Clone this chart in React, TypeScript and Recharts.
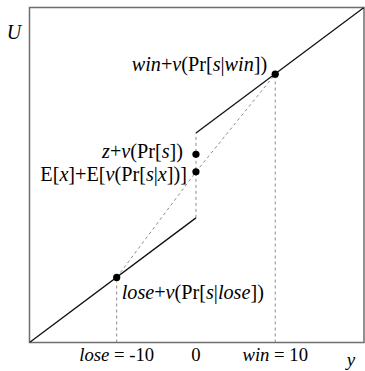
import React from "react";
import {
  ComposedChart,
  Line,
  Scatter,
  XAxis,
  YAxis,
  ReferenceArea,
} from "recharts";

const FONT = "'Liberation Serif', 'DejaVu Serif', 'Times New Roman', Times, serif";

// axis ranges (income y and utility U)
const Y_DOMAIN = [-21, 21.2];
const U_DOMAIN = [-21, 21.2];

// x-axis ticks and their labels (italic word, upright rest)
const yTicks = [-10, 0, 10];
const tickWords = ["lose", "", "win"];
const tickRest = [" = -10", "0", " = 10"];

// solid branches of the utility function, below and above y = 0
const lowerY = [-21, 0];
const lowerU = [-21, -5.3];
const upperY = [0, 21.2];
const upperU = [5.4, 21.2];

// dashed guides
const loseDropY = [-10, -10];
const loseDropU = [-21, -12.8];
const winDropY = [10, 10];
const winDropU = [-21, 12.8];
const jumpY = [0, 0];
const jumpU = [-5.3, 5.4];
const chordY = [-10, 0, 10];
const chordU = [-12.8, 0.5, 12.8];

// marked points
const dotY = [10, 0, 0, -10];
const dotU = [12.8, 2.7, 0.5, -12.8];

// label pieces: [text, italic]
type Piece = [string, boolean];
const dotLabels: Piece[][] = [
  [["win", true], ["+", false], ["v", true], ["(Pr[", false], ["s", true], ["|", false], ["win", true], ["])", false]],
  [["z", true], ["+", false], ["v", true], ["(Pr[", false], ["s", true], ["])", false]],
  [["E[", false], ["x", true], ["]+E[", false], ["v", true], ["(Pr[", false], ["s", true], ["|", false], ["x", true], ["])]", false]],
  [["lose", true], ["+", false], ["v", true], ["(Pr[", false], ["s", true], ["|", false], ["lose", true], ["])", false]],
];
// where each label sits relative to its dot
const labelAnchor = ["end", "end", "end", "start"];
const labelDx = [-8, -13, -9, 5];
const labelDy = [-3.5, 4, 9.5, 22];

const pts = (ys: number[], us: number[]) => ys.map((y, i) => ({ y, u: us[i] }));

const dots = dotY.map((y, i) => ({ y, u: dotU[i], idx: i }));

const textStyle = { fontFamily: FONT };

const Math = ({ pieces }: { pieces: Piece[] }) => (
  <>
    {pieces.map(([t, it], k) => (
      <tspan key={k} style={{ fontStyle: it ? "italic" : "normal" }}>
        {t}
      </tspan>
    ))}
  </>
);

const DotShape = (props: any) => {
  const { cx, cy, payload } = props;
  const i = payload.idx;
  return (
    <g>
      <circle cx={cx} cy={cy} r={3.6} fill="#000" />
      <text
        x={cx + labelDx[i]}
        y={cy + labelDy[i]}
        textAnchor={labelAnchor[i]}
        style={{ ...textStyle, fontSize: 20.2 }}
        fill="#000"
      >
        <Math pieces={dotLabels[i]} />
      </text>
    </g>
  );
};

const AxisTick = (props: any) => {
  const { x, y, payload } = props;
  const i = yTicks.indexOf(payload.value);
  return (
    <text x={x} y={y + 18.5} textAnchor="middle" style={{ ...textStyle, fontSize: 18.7 }} fill="#000">
      {tickWords[i] && <tspan style={{ fontStyle: "italic" }}>{tickWords[i]}</tspan>}
      <tspan>{tickRest[i]}</tspan>
    </text>
  );
};

const dashed = { stroke: "#8c8c8c", strokeWidth: 1, strokeDasharray: "3 3" };
const solid = { stroke: "#111", strokeWidth: 1.3 };

export default function App() {
  return (
    <div style={{ position: "absolute", left: 0, top: 0, background: "#fff", fontFamily: FONT }}>
      <ComposedChart
        width={365}
        height={371}
        margin={{ top: 7.5, right: 1, bottom: 0, left: 0 }}
      >
        <XAxis
          type="number"
          dataKey="y"
          domain={Y_DOMAIN}
          allowDataOverflow
          ticks={yTicks}
          tick={<AxisTick />}
          tickLine={false}
          tickSize={0}
          tickMargin={0}
          axisLine={false}
          height={28.5}
          label={{
            content: (p: any) => (
              <text
                x={p.viewBox.x + p.viewBox.width - 13}
                y={p.viewBox.y + 23.5}
                textAnchor="middle"
                style={{ ...textStyle, fontSize: 19, fontStyle: "italic" }}
                fill="#000"
              >
                y
              </text>
            ),
          }}
        />
        <YAxis
          type="number"
          dataKey="u"
          domain={U_DOMAIN}
          allowDataOverflow
          tick={false}
          tickLine={false}
          axisLine={false}
          width={29.5}
          label={{
            content: (p: any) => (
              <text
                x={14}
                y={p.viewBox.y + 31}
                textAnchor="middle"
                style={{ ...textStyle, fontSize: 20, fontStyle: "italic" }}
                fill="#000"
              >
                U
              </text>
            ),
          }}
        />
        <ReferenceArea
          x1={Y_DOMAIN[0]}
          x2={Y_DOMAIN[1]}
          y1={U_DOMAIN[0]}
          y2={U_DOMAIN[1]}
          fill="none"
          fillOpacity={0}
          stroke="#6e6e6e"
          strokeWidth={1.5}
        />
        <Line data={pts(loseDropY, loseDropU)} dataKey="u" {...dashed} dot={false} activeDot={false} isAnimationActive={false} />
        <Line data={pts(winDropY, winDropU)} dataKey="u" {...dashed} dot={false} activeDot={false} isAnimationActive={false} />
        <Line data={pts(jumpY, jumpU)} dataKey="u" {...dashed} dot={false} activeDot={false} isAnimationActive={false} />
        <Line data={pts(chordY, chordU)} dataKey="u" {...dashed} dot={false} activeDot={false} isAnimationActive={false} />
        <Line data={pts(lowerY, lowerU)} dataKey="u" {...solid} dot={false} activeDot={false} isAnimationActive={false} />
        <Line data={pts(upperY, upperU)} dataKey="u" {...solid} dot={false} activeDot={false} isAnimationActive={false} />
        <Scatter data={dots} dataKey="u" shape={<DotShape />} isAnimationActive={false} />
      </ComposedChart>
    </div>
  );
}
